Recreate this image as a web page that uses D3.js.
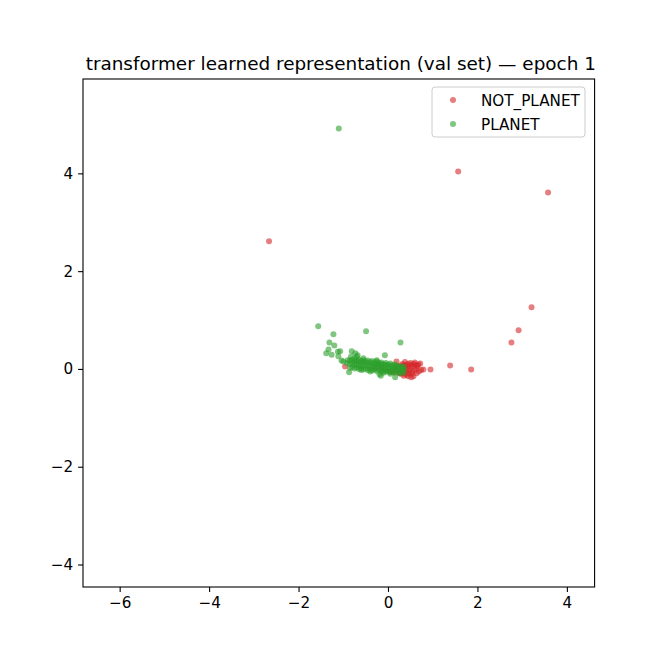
<!DOCTYPE html>
<html>
<head>
<meta charset="utf-8">
<script src="https://cdn.jsdelivr.net/npm/d3@7"></script>
<style>
  body { margin: 0; background: #fff; }
  text { font-family: "DejaVu Sans", sans-serif; }
</style>
</head>
<body>
<div id="chart"></div>
<script>
// --- data ---
const seriesNames = ["NOT_PLANET", "PLANET"];
const xTicks = [-6, -4, -2, 0, 2, 4];
const yTicks = [-4, -2, 0, 2, 4];
const xDomain = [-6.82, 4.62];
const yDomain = [-4.46, 5.93];

// NOT_PLANET points [x, y]
const notPlanet = [
    [1.57, 4.04], [3.58, 3.61], [-2.66, 2.61], [3.21, 1.26], [2.92, 0.79], [2.76, 0.54],
    [1.86, -0.01], [1.39, 0.07], [0.95, -0.01], [0.79, -0.01], [0.72, 0.11], [0.69, -0.05],
    [0.57, -0.15], [0.19, 0.15], [-0.96, 0.05], [0.64, -0.09], [0.74, -0.02],
    [0.62, 0.08], [0.58, 0.10], [0.55, 0.05], [0.52, 0.09], [0.50, 0.02], [0.48, -0.03],
    [0.45, 0.06], [0.42, 0.00], [0.40, -0.06], [0.38, 0.04], [0.35, -0.02], [0.33, 0.07],
    [0.30, -0.05], [0.28, 0.02], [0.25, -0.08], [0.22, 0.00], [0.20, -0.04], [0.18, 0.05],
    [0.15, -0.02], [0.12, -0.07], [0.60, -0.02], [0.55, -0.06], [0.47, -0.09], [0.36, -0.10],
    [0.28, -0.10], [0.64, 0.02], [0.50, 0.12], [0.44, 0.10], [0.32, 0.10], [0.10, -0.03],
    [0.05, -0.05], [-0.05, -0.02], [-0.15, 0.00], [-0.30, 0.02], [0.66, 0.06], [0.53, -0.10],
    [0.40, 0.08], [0.26, 0.06], [0.45, -0.15], [0.38, 0.14], [0.60, 0.13], [0.52, -0.17],
    [0.68, 0.09], [0.35, -0.14], [0.42, -0.12]
];

// PLANET points [x, y]
const planet = [
    [-1.10, 4.92], [-1.56, 0.875], [-1.22, 0.71], [-0.49, 0.77], [0.28, 0.54], [-1.31, 0.54],
    [-1.20, 0.48], [-1.33, 0.40], [-1.38, 0.32], [-1.26, 0.29], [-1.12, 0.35], [-1.07, 0.36],
    [-0.81, 0.36], [-0.73, 0.32], [-0.07, 0.28], [-1.04, 0.17], [-0.87, -0.07], [0.16, -0.17],
    [-0.19, -0.11], [-1.11, 0.26], [-0.83, 0.25], [-0.68, 0.28], [-1.00, 0.15], [-0.22, 0.09],
    [-0.16, -0.14], [-0.90, 0.18], [-0.92, 0.12], [-0.60, -0.02], [-0.40, -0.05],
    [-0.55, 0.22], [-0.25, 0.18], [-0.70, 0.25],
    [-0.85, 0.02], [-0.85, 0.10], [-0.85, 0.17], [-0.80, 0.04], [-0.80, 0.12], [-0.80, 0.19],
    [-0.75, 0.01], [-0.75, 0.08], [-0.75, 0.15], [-0.75, 0.21], [-0.70, 0.03], [-0.70, 0.10],
    [-0.70, 0.17], [-0.65, 0.00], [-0.65, 0.07], [-0.65, 0.14], [-0.65, 0.19], [-0.60, 0.02],
    [-0.60, 0.09], [-0.60, 0.16], [-0.55, -0.01], [-0.55, 0.06], [-0.55, 0.13], [-0.55, 0.18],
    [-0.50, 0.01], [-0.50, 0.08], [-0.50, 0.15], [-0.45, -0.02], [-0.45, 0.05], [-0.45, 0.12],
    [-0.45, 0.17], [-0.40, 0.00], [-0.40, 0.07], [-0.40, 0.14], [-0.35, -0.03], [-0.35, 0.04],
    [-0.35, 0.11], [-0.35, 0.16], [-0.30, -0.01], [-0.30, 0.06], [-0.30, 0.13], [-0.25, -0.04],
    [-0.25, 0.03], [-0.25, 0.10], [-0.25, 0.15], [-0.20, -0.02], [-0.20, 0.05], [-0.20, 0.12],
    [-0.15, -0.05], [-0.15, 0.02], [-0.15, 0.09], [-0.15, 0.13], [-0.10, -0.03], [-0.10, 0.04],
    [-0.10, 0.10], [-0.05, -0.06], [-0.05, 0.01], [-0.05, 0.08], [-0.05, 0.12], [0.00, -0.04],
    [0.00, 0.03], [0.00, 0.09], [0.05, -0.07], [0.05, 0.00], [0.05, 0.06], [0.05, 0.11],
    [0.10, -0.05], [0.10, 0.02], [0.10, 0.08], [0.15, -0.08], [0.15, -0.01], [0.15, 0.05],
    [0.15, 0.09], [0.20, -0.06], [0.20, 0.01], [0.20, 0.07], [0.25, -0.09], [0.25, -0.02],
    [0.25, 0.04], [0.30, -0.07], [0.30, 0.00], [0.30, 0.05], [0.35, -0.08], [0.35, -0.01],
    [0.35, 0.04], [-0.10, -0.08], [0.05, -0.10]
];

// --- layout ---
const W = 660, H = 660;
const padLeft = 83, padRight = 594.6, padTop = 79, padBottom = 587;
const colors = { "NOT_PLANET": "#d62728", "PLANET": "#2ca02c" };
const dotR = 3;

const svg = d3.select("#chart").append("svg")
    .attr("width", W).attr("height", H);

const xScale = d3.scaleLinear().domain(xDomain).range([padLeft, padRight]);
const yScale = d3.scaleLinear().domain(yDomain).range([padBottom, padTop]);

// points, NOT_PLANET first so PLANET sits on top
const series = [
    { name: seriesNames[0], pts: notPlanet },
    { name: seriesNames[1], pts: planet }
];
for (let s of series) {
    svg.append("g").selectAll("circle")
        .data(s.pts)
        .enter()
        .append("circle")
        .attr("cx", d => xScale(d[0]))
        .attr("cy", d => yScale(d[1]))
        .attr("r", dotR)
        .attr("fill", colors[s.name])
        .attr("fill-opacity", 0.6);
}

// axes
const xAxis = svg.append("g")
    .attr("transform", `translate(0, ${padBottom})`)
    .call(d3.axisBottom(xScale).tickValues(xTicks).tickSize(4.9).tickPadding(4.9));
const yAxis = svg.append("g")
    .attr("transform", `translate(${padLeft}, 0)`)
    .call(d3.axisLeft(yScale).tickValues(yTicks).tickSize(4.9).tickPadding(4.9));

for (let ax of [xAxis, yAxis]) {
    ax.select(".domain").remove();
    ax.selectAll("line").attr("stroke", "#000").attr("stroke-width", 1.1);
    ax.selectAll("text")
        .attr("fill", "#000")
        .style("font-family", "DejaVu Sans")
        .style("font-size", "15.2px");
}

// frame
svg.append("rect")
    .attr("x", padLeft).attr("y", padTop)
    .attr("width", padRight - padLeft).attr("height", padBottom - padTop)
    .attr("fill", "none").attr("stroke", "#000").attr("stroke-width", 1.1);

// title
svg.append("text")
    .attr("x", (padLeft + padRight) / 2 + 2).attr("y", 70)
    .attr("text-anchor", "middle")
    .style("font-size", "18.4px")
    .text("transformer learned representation (val set) — epoch 1");

// legend
const legend = svg.append("g");
legend.append("rect")
    .attr("x", 432).attr("y", 87)
    .attr("width", 153).attr("height", 50)
    .attr("rx", 3)
    .attr("fill", "#fff").attr("fill-opacity", 0.8)
    .attr("stroke", "#cccccc").attr("stroke-width", 1);

seriesNames.forEach((name, i) => {
    let yy = 100 + i * 24;
    legend.append("circle")
        .attr("cx", 453).attr("cy", yy)
        .attr("r", dotR)
        .attr("fill", colors[name]).attr("fill-opacity", 0.6);
    legend.append("text")
        .attr("x", 481).attr("y", yy + 5.5)
        .style("font-size", "15.2px")
        .text(name);
});
</script>
</body>
</html>
